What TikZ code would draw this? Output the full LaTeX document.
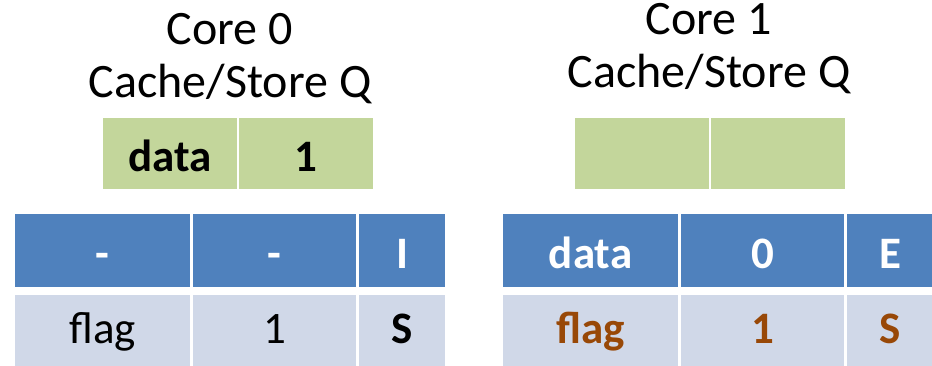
\documentclass[tikz,border=0pt]{standalone}
\usepackage{fontspec}
\setmainfont{Carlito}
\usepackage{xcolor}
\usepackage{tikz}
\usetikzlibrary{positioning}

\definecolor{sqgreen}{HTML}{C3D69B}
\definecolor{hdrblue}{HTML}{4F81BD}
\definecolor{rowgray}{HTML}{D0D8E8}
\definecolor{stbrown}{HTML}{984807}

\begin{document}
\begin{tikzpicture}[
        x=1pt, y=-1pt,
        node distance=3pt and 3pt,
        title/.style={
            align=center,
            font=\fontsize{48}{53}\selectfont
        },
        cell/.style={
            rectangle,
            inner sep=0pt,
            outer sep=0pt,
            minimum height=73pt,
            text height=36pt,
            text depth=1pt,
            font=\fontsize{45}{54}\selectfont
        },
        sqcell/.style={
            cell,
            fill=sqgreen,
            minimum width=134pt,
            minimum height=71pt,
            text depth=0pt,
            font=\fontsize{45}{54}\selectfont\bfseries
        },
        hdrcell/.style={
            cell,
            fill=hdrblue,
            text=white,
            font=\fontsize{45}{54}\selectfont\bfseries
        },
        rowcell/.style={
            cell,
            fill=rowgray,
            minimum height=80pt,
            text depth=20pt
        },
        wide/.style={minimum width=175pt},
        mid/.style={minimum width=163pt},
        narrow/.style={minimum width=86pt}
    ]

    \useasboundingbox (0,0) rectangle (932,365);
    \clip (0,0) rectangle (932,365);

    % core 0
    \node (title0) [title, anchor=base] at (230,97) {Core 0\\Cache/Store Q};
    \node (sq0a) [sqcell, anchor=north west] at (103,118) {data};
    \node (sq0b) [sqcell, right=2pt of sq0a] {1};

    \node (c0r1a) [hdrcell, wide, anchor=north west] at (15,214) {-};
    \node (c0r1b) [hdrcell, mid, right=of c0r1a] {-};
    \node (c0r1c) [hdrcell, narrow, right=of c0r1b] {I};
    \node (c0r2a) [rowcell, wide, below=8pt of c0r1a] {flag};
    \node (c0r2b) [rowcell, mid, right=of c0r2a] {1};
    \node (c0r2c) [rowcell, narrow, right=of c0r2b, font=\fontsize{45}{54}\selectfont\bfseries] {S};

    % core 1
    \node (title1) [title, anchor=base] at (709,87) {Core 1\\Cache/Store Q};
    \node (sq1a) [sqcell, anchor=north west] at (575,118) {};
    \node (sq1b) [sqcell, right=2pt of sq1a] {};

    \node (c1r1a) [hdrcell, wide, anchor=north west] at (503,214) {data};
    \node (c1r1b) [hdrcell, mid, right=of c1r1a] {0};
    \node (c1r1c) [hdrcell, narrow, right=of c1r1b] {E};
    \node (c1r2a) [rowcell, wide, below=8pt of c1r1a, text=stbrown, font=\fontsize{45}{54}\selectfont\bfseries] {flag};
    \node (c1r2b) [rowcell, mid, right=of c1r2a, text=stbrown, font=\fontsize{45}{54}\selectfont\bfseries] {1};
    \node (c1r2c) [rowcell, narrow, right=of c1r2b, text=stbrown, font=\fontsize{45}{54}\selectfont\bfseries] {S};

\end{tikzpicture}
\end{document}
